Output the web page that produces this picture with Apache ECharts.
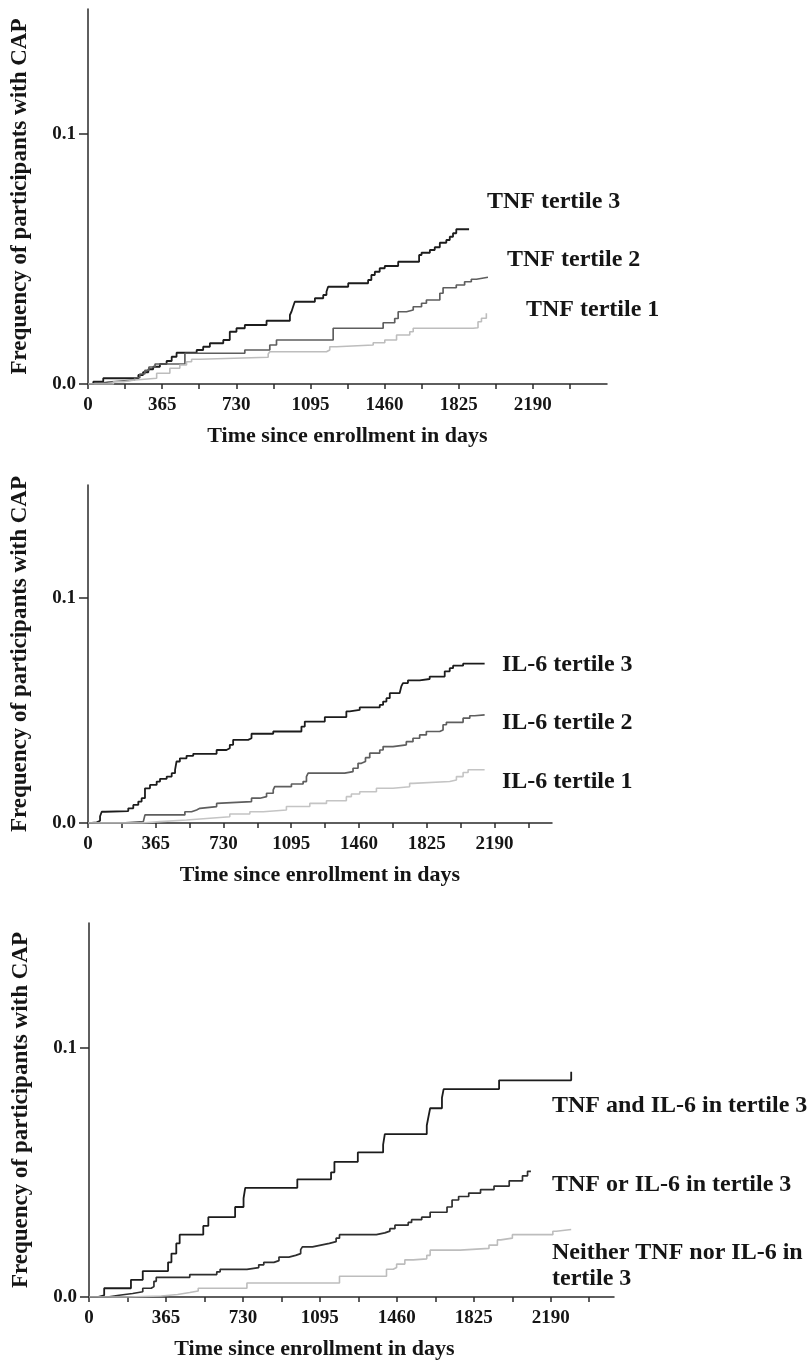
<!DOCTYPE html>
<html>
<head>
<meta charset="utf-8">
<script src="https://cdn.jsdelivr.net/npm/echarts@6/dist/echarts.min.js"></script>
<style>
  html, body { margin: 0; padding: 0; background: #fff; }
  #main { width: 808px; height: 1364px; }
</style>
</head>
<body>
<div id="main"></div>
<script>
// cumulative frequency of CAP, [day, value] step points
var tnfTertile3 = [[0,0],[26,0.0009],[75,0.0023],[248,0.0036],[271,0.0047],[297,0.0059],[321,0.0069],[354,0.008],[387,0.0092],[412,0.0109],[436,0.0125],[535,0.0136],[567,0.0149],[600,0.0163],[666,0.0176],[698,0.0209],[731,0.0223],[772,0.0236],[879,0.0253],[994,0.0276],[1002,0.029],[1010,0.031],[1018,0.0329],[1117,0.0343],[1158,0.0356],[1174,0.0369],[1182,0.0389],[1281,0.0403],[1379,0.0416],[1395,0.0436],[1412,0.0449],[1436,0.0463],[1461,0.0472],[1527,0.0489],[1630,0.0516],[1642,0.0525],[1683,0.0536],[1707,0.0547],[1732,0.0565],[1764,0.0576],[1781,0.0589],[1797,0.0603],[1813,0.0619],[1876,0.0619]];
var tnfTertile2 = [[0,0],[40,0.0008],[100,0.0016],[230,0.0025],[255,0.004],[280,0.0055],[300,0.0068],[330,0.008],[477,0.0123],[772,0.0136],[895,0.0156],[928,0.0176],[1207,0.0223],[1453,0.0245],[1510,0.0262],[1527,0.0289],[1568,0.0296],[1601,0.0309],[1642,0.0323],[1666,0.0336],[1732,0.0363],[1748,0.0385],[1813,0.0396],[1854,0.0409],[1887,0.0419],[1912,0.0427],[1969,0.0429]];
var tnfTertile1 = [[0,0],[125,0.0009],[174,0.0016],[231,0.0023],[338,0.0043],[403,0.0063],[452,0.0076],[485,0.0089],[510,0.0099],[551,0.0107],[887,0.012],[895,0.0129],[1174,0.0136],[1190,0.0149],[1223,0.0156],[1404,0.0165],[1461,0.0176],[1519,0.0196],[1584,0.0209],[1601,0.0223],[1896,0.0225],[1920,0.0249],[1937,0.0263],[1961,0.0283]];

var il6Tertile3 = [[0,0],[20,0.0003],[47,0.001],[65,0.003],[74,0.005],[92,0.0053],[217,0.0065],[244,0.008],[271,0.0095],[289,0.011],[307,0.0154],[334,0.0169],[370,0.0184],[388,0.0196],[424,0.0206],[451,0.0221],[469,0.0236],[477,0.0273],[495,0.0287],[531,0.0298],[567,0.0307],[693,0.0324],[746,0.0332],[764,0.0347],[782,0.0369],[863,0.0376],[881,0.0396],[998,0.0406],[1150,0.0428],[1168,0.045],[1276,0.047],[1392,0.0495],[1410,0.0502],[1464,0.0513],[1572,0.0524],[1590,0.0539],[1608,0.0554],[1626,0.0576],[1679,0.0584],[1688,0.0606],[1697,0.0621],[1724,0.0633],[1787,0.0639],[1841,0.065],[1922,0.0673],[1949,0.0687],[1967,0.0698],[2021,0.0707],[2137,0.0707]];
var il6Tertile2 = [[0,0],[181,0.0006],[298,0.0013],[307,0.0036],[522,0.005],[558,0.0058],[585,0.0065],[603,0.0073],[693,0.0087],[702,0.0095],[881,0.011],[926,0.0117],[962,0.0132],[998,0.0147],[1006,0.0161],[1096,0.0173],[1159,0.0184],[1177,0.0206],[1186,0.0221],[1383,0.0228],[1428,0.0243],[1455,0.0265],[1473,0.0273],[1495,0.029],[1518,0.031],[1572,0.0324],[1590,0.0339],[1643,0.0347],[1715,0.0361],[1751,0.0376],[1787,0.0391],[1823,0.0406],[1895,0.0413],[1913,0.0436],[1931,0.0447],[2021,0.0465],[2057,0.0476],[2083,0.048],[2137,0.048]];
var il6Tertile1 = [[0,0],[289,0.0006],[388,0.0013],[531,0.0021],[657,0.0028],[764,0.004],[872,0.005],[944,0.0058],[1069,0.0073],[1195,0.0087],[1285,0.0099],[1392,0.0117],[1419,0.0129],[1464,0.0139],[1554,0.0154],[1643,0.0161],[1733,0.0176],[1751,0.0184],[1949,0.0191],[1985,0.0206],[2021,0.0224],[2048,0.0236],[2137,0.0239]];

var bothTertile3 = [[0,0],[40,0.0007],[72,0.0035],[199,0.0069],[255,0.0104],[375,0.0139],[391,0.0174],[414,0.0215],[430,0.025],[542,0.0285],[566,0.032],[693,0.0361],[733,0.0396],[741,0.0438],[988,0.0472],[1148,0.05],[1164,0.0542],[1275,0.058],[1395,0.0611],[1403,0.0653],[1602,0.0688],[1610,0.0723],[1618,0.0757],[1674,0.0799],[1682,0.0834],[1945,0.0869],[2287,0.0903]];
var eitherTertile3 = [[0,0],[88,0.0007],[143,0.0014],[207,0.0021],[255,0.0035],[295,0.0042],[308,0.0063],[319,0.0079],[478,0.009],[606,0.0101],[622,0.0111],[749,0.0118],[805,0.0129],[829,0.0139],[877,0.0146],[901,0.016],[948,0.0167],[980,0.0174],[1004,0.019],[1012,0.0201],[1060,0.0208],[1100,0.0215],[1140,0.0222],[1172,0.0236],[1188,0.025],[1363,0.0257],[1403,0.0264],[1427,0.0274],[1451,0.0288],[1514,0.0299],[1530,0.031],[1578,0.032],[1618,0.034],[1698,0.0361],[1722,0.0389],[1753,0.0403],[1801,0.0417],[1857,0.0431],[1921,0.0445],[1993,0.0466],[2056,0.0486],[2080,0.0504],[2096,0.0504]];
var neitherTertile3 = [[0,0],[183,0.0004],[343,0.001],[420,0.0018],[478,0.0024],[518,0.0035],[749,0.0056],[1188,0.0083],[1411,0.0111],[1443,0.0118],[1459,0.0132],[1498,0.0149],[1538,0.0153],[1602,0.0167],[1618,0.0188],[1760,0.0195],[1897,0.0208],[1937,0.0229],[1953,0.0236],[2008,0.025],[2200,0.0264],[2216,0.0271],[2287,0.0271]];

var xLabelValues = [0, 365, 730, 1095, 1460, 1825, 2190];
var xTickValues = [0, 182.5, 365, 547.5, 730, 912.5, 1095, 1277.5, 1460, 1642.5, 1825, 2007.5, 2190, 2372.5];
var yLabelValues = [0, 0.1];
var xMax = [2555, 2500, 2490];

var panelSeries = [
  [tnfTertile3, tnfTertile2, tnfTertile1],
  [il6Tertile3, il6Tertile2, il6Tertile1],
  [bothTertile3, eitherTertile3, neitherTertile3]
];
var panelNames = [
  ['TNF tertile 3', 'TNF tertile 2', 'TNF tertile 1'],
  ['IL-6 tertile 3', 'IL-6 tertile 2', 'IL-6 tertile 1'],
  ['TNF and IL-6 in tertile 3', 'TNF or IL-6 in tertile 3', 'Neither TNF nor IL-6 in\ntertile 3']
];

var FONT = '"Liberation Serif", "Times New Roman", serif';
var INK = '#151515';
var AXIS = '#2a2a2a';
var lineColors = [
  ['#1c1c1c', '#5e5e5e', '#bdbdbd'],
  ['#1c1c1c', '#5e5e5e', '#c4c4c4'],
  ['#1c1c1c', '#2e2e2e', '#bdbdbd']
];
var lineWidths = [1.8, 1.7, 1.6];

var grids = [
  { left: 88, top: 9, width: 519, height: 375 },
  { left: 88, top: 485, width: 464, height: 338 },
  { left: 89, top: 923, width: 525, height: 374 }
];

var xAxes = grids.map(function (g, i) {
  return {
    type: 'value', gridIndex: i, min: 0, max: xMax[i],
    name: 'Time since enrollment in days',
    nameLocation: 'middle', nameGap: 41,
    nameTextStyle: {
      fontFamily: FONT, fontWeight: 'bold', fontSize: 22, color: INK,
      padding: i === 2 ? [0, 74, 0, 0] : 0
    },
    splitLine: { show: false },
    axisLine: { show: true, onZero: false, lineStyle: { color: AXIS, width: 1.5 } },
    axisTick: { show: true, customValues: xTickValues, length: 5, lineStyle: { color: AXIS, width: 1.5 } },
    axisLabel: {
      customValues: xLabelValues, margin: 12,
      fontFamily: FONT, fontWeight: 'bold', fontSize: 19, color: INK,
      formatter: function (v) { return String(v); }
    }
  };
});

var yAxes = grids.map(function (g, i) {
  return {
    type: 'value', gridIndex: i, min: 0, max: 0.15,
    name: 'Frequency of participants with CAP',
    nameLocation: 'middle', nameGap: 56, nameRotate: 90,
    nameTextStyle: { fontFamily: FONT, fontWeight: 'bold', fontSize: 23, color: INK },
    splitLine: { show: false },
    axisLine: { show: true, lineStyle: { color: AXIS, width: 1.5 } },
    axisTick: { show: true, customValues: yLabelValues, length: 9, lineStyle: { color: AXIS, width: 1.5 } },
    axisLabel: {
      customValues: yLabelValues, margin: 12,
      fontFamily: FONT, fontWeight: 'bold', fontSize: 19, color: INK,
      formatter: function (v) { return v.toFixed(1); }
    }
  };
});

var series = [];
panelSeries.forEach(function (list, p) {
  list.forEach(function (data, k) {
    series.push({
      type: 'line', name: panelNames[p][k].replace('\n', ' '),
      xAxisIndex: p, yAxisIndex: p,
      step: 'end', showSymbol: false, silent: true,
      lineStyle: { color: lineColors[p][k], width: lineWidths[k] },
      data: data
    });
  });
});

// curve labels to the right of each panel (anchor = left edge, vertical middle)
var labelPos = [
  [[487, 202], [507, 260], [526, 310]],
  [[502, 665], [502, 723], [502, 782]],
  [[552, 1106], [552, 1185], [552, 1266]]
];
var graphics = [];
labelPos.forEach(function (rows, p) {
  rows.forEach(function (pt, k) {
    graphics.push({
      type: 'text', x: pt[0], y: pt[1], silent: true,
      style: {
        text: panelNames[p][k], fill: INK,
        font: 'bold 24px ' + FONT,
        align: 'left', verticalAlign: 'middle', lineHeight: 26
      }
    });
  });
});

var chart = echarts.init(document.getElementById('main'));
chart.setOption({
  animation: false,
  backgroundColor: '#fff',
  grid: grids,
  xAxis: xAxes,
  yAxis: yAxes,
  series: series,
  graphic: graphics
});
</script>
</body>
</html>
